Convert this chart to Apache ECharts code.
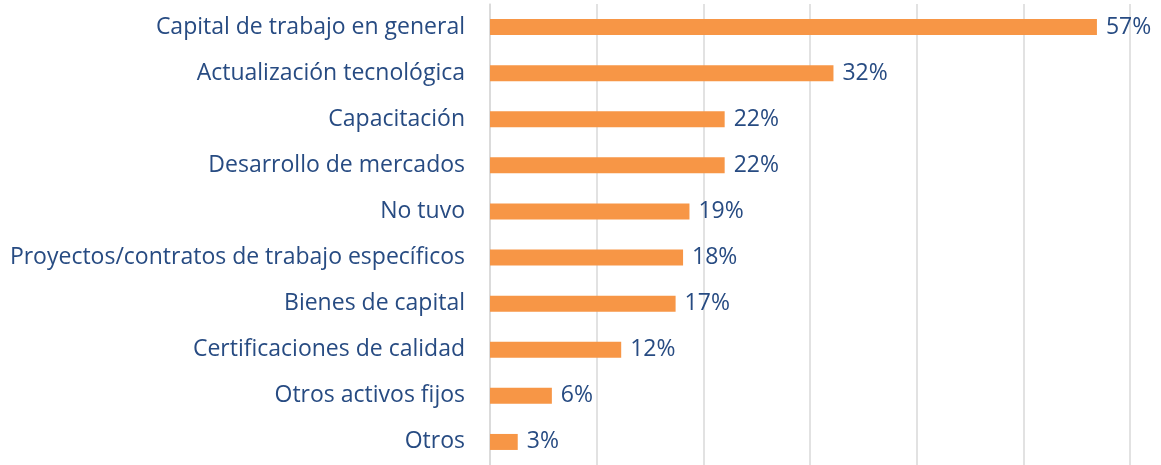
<!DOCTYPE html>
<html>
<head>
<meta charset="utf-8">
<script src="https://cdn.jsdelivr.net/npm/echarts@6/dist/echarts.min.js"></script>
<style>
  html, body { margin: 0; padding: 0; background: #fff; }
  #chart { width: 1161px; height: 465px; }
</style>
</head>
<body>
<div id="chart"></div>
<script>
// categories listed top to bottom
const categories = [
  'Capital de trabajo en general',
  'Actualización tecnológica',
  'Capacitación',
  'Desarrollo de mercados',
  'No tuvo',
  'Proyectos/contratos de trabajo específicos',
  'Bienes de capital',
  'Certificaciones de calidad',
  'Otros activos fijos',
  'Otros'
]
// percentages (labels show them rounded)
const values = [56.9, 32.2, 22, 22, 18.7, 18.1, 17.4, 12.3, 5.8, 2.6]

const textColor = '#274B82'
const barColor = '#F79646'
const gridColor = '#D9D9D9'

const chart = echarts.init(document.getElementById('chart'))

chart.setOption({
  animation: false,
  textStyle: { fontFamily: 'Open Sans' },
  grid: {
    left: 490,
    right: 31,
    top: 4,
    height: 468,
    containLabel: false
  },
  xAxis: {
    type: 'value',
    min: 0,
    max: 60,
    interval: 10,
    axisLabel: { show: false },
    axisLine: { show: false },
    axisTick: { show: false },
    splitLine: { show: true, lineStyle: { color: gridColor, width: 1.5 } }
  },
  yAxis: {
    type: 'category',
    inverse: true,
    data: categories,
    axisLine: { show: true, lineStyle: { color: gridColor, width: 1.5 } },
    axisTick: { show: false },
    axisLabel: {
      color: textColor,
      fontSize: 23,
      margin: 25
    }
  },
  series: [{
    type: 'bar',
    data: values,
    barWidth: 16,
    itemStyle: { color: barColor },
    label: {
      show: true,
      position: 'right',
      distance: 9,
      color: textColor,
      fontSize: 23,
      formatter: p => Math.round(p.value) + '%'
    }
  }]
})
</script>
</body>
</html>
